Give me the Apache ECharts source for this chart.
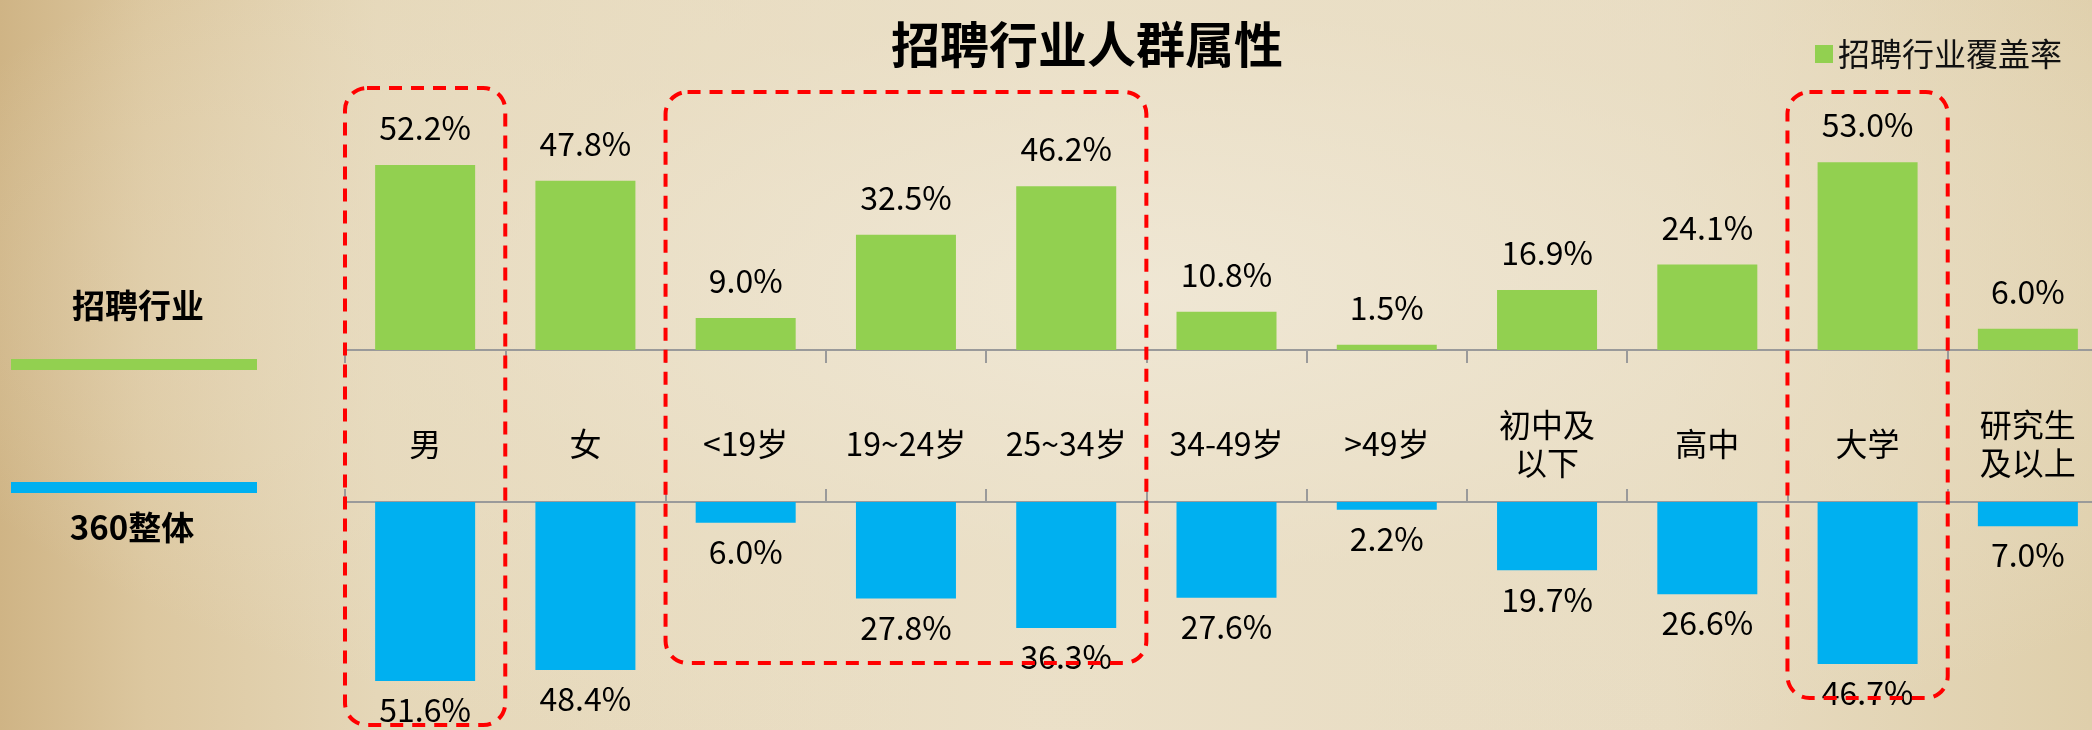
<!DOCTYPE html>
<html>
<head>
<meta charset="utf-8">
<script src="https://cdn.jsdelivr.net/npm/echarts@6/dist/echarts.min.js"></script>
<style>
  html, body { margin:0; padding:0; }
  body {
    width:2092px; height:730px; overflow:hidden;
    background:
      radial-gradient(ellipse at 55% 40%, rgba(240,232,214,0.85) 0%, rgba(234,223,198,0.55) 45%, rgba(226,210,175,0) 80%),
      linear-gradient(90deg, #cfb485 0%, #dcc79f 7%, #e5d7b8 18%, #ebe0c8 50%, #e8dcc2 80%, #dfcfab 100%);
  }
  #chart { width:2112px; height:730px; }
</style>
</head>
<body>
<div id="chart"></div>
<script>
// ---- data ----
const categories = ['男', '女', '<19岁', '19~24岁', '25~34岁', '34-49岁', '>49岁', '初中及\n以下', '高中', '大学', '研究生\n及以上'];
const recruitValues = [52.2, 47.8, 9.0, 32.5, 46.2, 10.8, 1.5, 16.9, 24.1, 53.0, 6.0];
const overallValues = [51.6, 48.4, 6.0, 27.8, 36.3, 27.6, 2.2, 19.7, 26.6, 46.7, 7.0];
const seriesNames = ['招聘行业覆盖率', '360整体'];
const titleText = '招聘行业人群属性';
const sideLabels = ['招聘行业', '360整体'];

const FONT = '"Noto Sans CJK SC", "Noto Sans", sans-serif';
const GREEN = '#92d050';
const BLUE = '#00b0f0';
const AXIS_GRAY = '#9a9a9a';

const chart = echarts.init(document.getElementById('chart'), null, { renderer: 'canvas' });

const pct = p => Number(p.value).toFixed(1) + '%';

const option = {
  backgroundColor: 'transparent',
  title: {
    text: titleText,
    left: 1082, top: 15, textAlign: 'center',
    textStyle: { fontFamily: FONT, fontSize: 49, fontWeight: 'bold', color: '#000', lineHeight: 49 }
  },
  legend: {
    data: [seriesNames[0]],
    left: 1810, top: 33,
    itemWidth: 18, itemHeight: 18, icon: 'rect',
    textStyle: { fontFamily: FONT, fontSize: 32, color: '#111', lineHeight: 32 }
  },
  grid: [
    { left: 345, width: 1763, top: 137.4, height: 212.6 },
    { left: 345, width: 1763, top: 502, height: 208.2 }
  ],
  xAxis: [
    {
      type: 'category', gridIndex: 0, data: categories, position: 'bottom',
      axisLine: { lineStyle: { color: AXIS_GRAY, width: 2 } },
      axisTick: { show: true, length: 13, lineStyle: { color: AXIS_GRAY, width: 2 } },
      axisLabel: {
        interval: 0, margin: 94, verticalAlign: 'middle',
        fontFamily: FONT, fontSize: 32, lineHeight: 38, color: '#000'
      }
    },
    {
      type: 'category', gridIndex: 1, data: categories, position: 'top',
      axisLine: { lineStyle: { color: AXIS_GRAY, width: 2 } },
      axisTick: { show: true, length: 13, lineStyle: { color: AXIS_GRAY, width: 2 } },
      axisLabel: { show: false }
    }
  ],
  yAxis: [
    { type: 'value', gridIndex: 0, min: 0, max: 60, show: false, splitLine: { show: false } },
    { type: 'value', gridIndex: 1, min: 0, max: 60, inverse: true, show: false, splitLine: { show: false } }
  ],
  series: [
    {
      name: seriesNames[0], type: 'bar', xAxisIndex: 0, yAxisIndex: 0,
      data: recruitValues, barWidth: 100,
      itemStyle: { color: GREEN },
      label: {
        show: true, position: 'top', distance: 21, formatter: pct,
        fontFamily: FONT, fontSize: 32, lineHeight: 32, color: '#000'
      }
    },
    {
      name: seriesNames[1], type: 'bar', xAxisIndex: 1, yAxisIndex: 1,
      data: overallValues, barWidth: 100,
      itemStyle: { color: BLUE },
      label: {
        show: true, position: 'bottom', distance: 13, formatter: pct,
        fontFamily: FONT, fontSize: 32, lineHeight: 32, color: '#000'
      }
    }
  ]
};

chart.setOption(option);

// ---- decorations: left-side series markers and red dashed highlight boxes ----
const c0 = chart.convertToPixel({ xAxisIndex: 0 }, categories[0]);
const c1 = chart.convertToPixel({ xAxisIndex: 0 }, categories[1]);
const band = c1 - c0;
const boxes = [
  { from: 0, to: 0, top: 88, bottom: 725 },
  { from: 2, to: 4, top: 92, bottom: 663 },
  { from: 9, to: 9, top: 92, bottom: 698 }
];
const graphics = [
  { type: 'text', x: 138, y: 305, style: { text: sideLabels[0], font: 'bold 33px ' + FONT, fill: '#000', align: 'center', verticalAlign: 'middle' } },
  { type: 'rect', shape: { x: 11, y: 359, width: 246, height: 11 }, style: { fill: GREEN } },
  { type: 'rect', shape: { x: 11, y: 482, width: 246, height: 11 }, style: { fill: BLUE } },
  { type: 'text', x: 132, y: 527, style: { text: sideLabels[1], font: 'bold 33px ' + FONT, fill: '#000', align: 'center', verticalAlign: 'middle' } }
];
boxes.forEach(b => {
  const xl = c0 + (b.from - 0.5) * band;
  const xr = c0 + (b.to + 0.5) * band;
  graphics.push({
    type: 'rect', z: 100,
    shape: { x: xl, y: b.top, width: xr - xl, height: b.bottom - b.top, r: 22 },
    style: { fill: 'none', stroke: '#ff0000', lineWidth: 4, lineDash: [13, 9] }
  });
});
chart.setOption({ graphic: graphics });
</script>
</body>
</html>
